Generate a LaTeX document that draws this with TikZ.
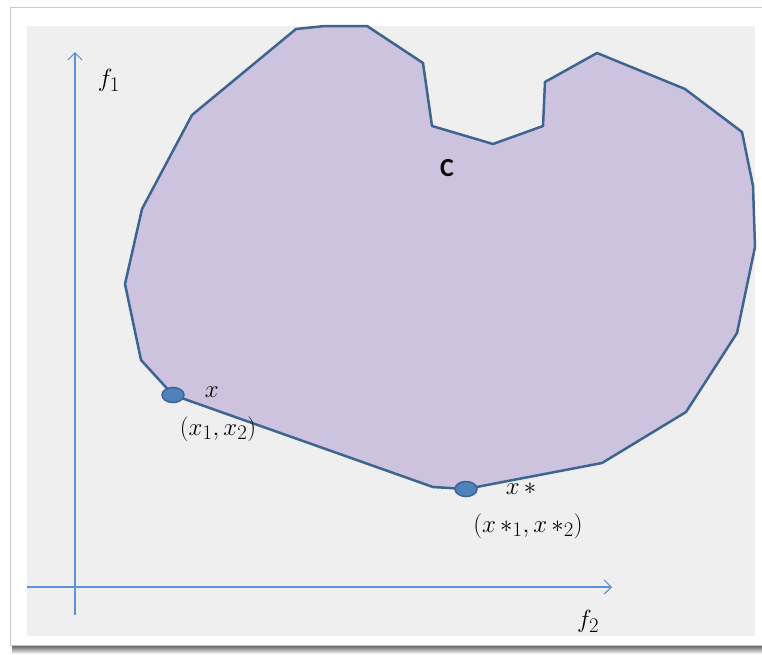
\documentclass[tikz,border=0pt]{standalone}
\usepackage{fontspec}
\newfontfamily\calibrifont{Carlito}
\usetikzlibrary{arrows.meta, positioning, shapes.geometric}
\definecolor{panelgray}{HTML}{EFEFEF}
\definecolor{framegray}{HTML}{C9C9C9}
\definecolor{regionfill}{HTML}{CDC3DE}
\definecolor{regionline}{HTML}{3E6491}
\definecolor{axisblue}{HTML}{5E93D2}
\definecolor{dotfill}{HTML}{4F81BD}
\definecolor{dotline}{HTML}{3A6496}
\tikzstyle{axis}=[-{Straight Barb[length=7pt,width=14pt]},line width=1.2pt,color=axisblue]
\tikzstyle{pointdot}=[ellipse,draw=dotline,fill=dotfill,line width=1.5pt,
  minimum width=22pt,minimum height=15pt,inner sep=0pt]
\tikzstyle{mathlabel}=[font=\fontsize{30}{34}\selectfont,inner sep=0pt]
\tikzstyle{setlabel}=[font=\calibrifont\bfseries\fontsize{26}{30}\selectfont,inner sep=0pt]

\begin{document}
\begin{tikzpicture}[x=1pt,y=-1pt]
  \useasboundingbox (0,0) rectangle (762,654);
  % frame and shadow
  \shade[top color=black!65,bottom color=white] (12,645) rectangle (762,654);
  \draw[framegray,fill=white] (10,7) rectangle (770,645);
  \fill[panelgray] (27,26) rectangle (755,636);
  % the region C
  \draw[regionline,fill=regionfill,line width=2.5pt,line join=round]
    (296,29) -- (325,26) -- (367,26) -- (423,63) -- (432,126) -- (493,144)
    -- (543,126) -- (545,82) -- (597,53) -- (685,89) -- (742,132)
    -- (753,186) -- (755,247) -- (737,333) -- (686,412) -- (602,463)
    -- (466,489) -- (433,487) -- (173,395) -- (141,360) -- (125,284)
    -- (142,209) -- (192,115) -- cycle;
  \node[setlabel] (C) at (447,168) {C};
  % axes
  \coordinate (yfoot) at (75,615);
  \coordinate (ytip) at (75,52);
  \coordinate (xfoot) at (27,587);
  \coordinate (xtip) at (612,587);
  \draw[axis] (yfoot) -- (ytip);
  \draw[axis] (xfoot) -- (xtip);
  \node[mathlabel] (f1) at (109,80) {$f_1$};
  \node[mathlabel] (f2) at (588,621) {$f_2$};
  % points
  \node[pointdot] (xdot) at (173,395) {};
  \node[pointdot] (xsdot) at (466,489) {};
  \node[mathlabel,right=20pt of xdot,yshift=3pt] (xname) {$x$};
  \node[mathlabel,below=13pt of xdot,xshift=45pt] (xval) {$(x_1,x_2)$};
  \node[mathlabel,right=28pt of xsdot] (xsname) {$x\,{*}$};
  \node[mathlabel,below=16pt of xsdot,xshift=62pt] (xsval) {$(x\,{*}_1,x\,{*}_2)$};
\end{tikzpicture}
\end{document}
